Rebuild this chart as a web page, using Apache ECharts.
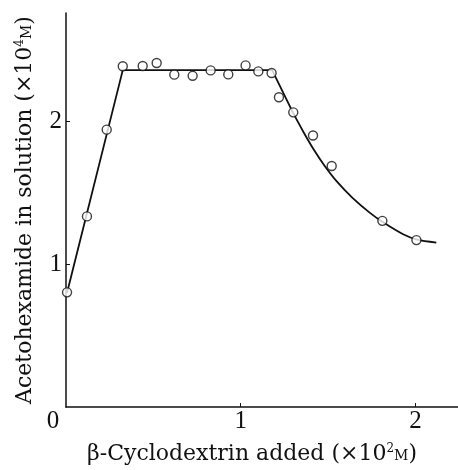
<!DOCTYPE html>
<html>
<head>
<meta charset="utf-8">
<script src="https://cdn.jsdelivr.net/npm/echarts@6/dist/echarts.min.js"></script>
<style>
html,body{margin:0;padding:0;background:#fff;}
#c{width:458px;height:470px;}
</style>
</head>
<body>
<div id="c"></div>
<script>
// Measured points: beta-cyclodextrin added (x10^2 M) vs acetohexamide in solution (x10^4 M)
const pointX = [0.006,0.12,0.233,0.325,0.439,0.519,0.62,0.725,0.828,0.929,1.028,1.101,1.177,1.219,1.301,1.414,1.521,1.811,2.006];
const pointY = [0.803,1.335,1.943,2.387,2.389,2.41,2.328,2.32,2.358,2.33,2.393,2.351,2.34,2.17,2.064,1.902,1.688,1.304,1.169];
// Fitted line: straight part
const lineX = [0.006,0.325,1.18,1.30];
const lineY = [0.80,2.36,2.36,2.06];
// Fitted line: curved part
const curveX = [1.30,1.36,1.42,1.48,1.55,1.64,1.74,1.82,1.93,2.01,2.12];
const curveY = [2.06,1.925,1.80,1.69,1.58,1.465,1.36,1.29,1.21,1.172,1.152];
const xTicks = [0,1,2];
const yTicks = [1,2];

const zip = (a,b) => a.map((v,i)=>[v,b[i]]);
const font = '"Liberation Serif", "DejaVu Serif", serif';
const nfont = '"DejaVu Serif", "Liberation Serif", serif';

const nameRich = {
  a:{fontFamily:nfont, fontSize:22, color:'#111'},
  s:{fontFamily:nfont, fontSize:12, color:'#111', verticalAlign:'top', padding:[0,0,9,0]},
  m:{fontFamily:nfont, fontSize:14, color:'#111', padding:[5,0,0,0]}
};

const chart = echarts.init(document.getElementById('c'), null, {renderer:'canvas'});
chart.setOption({
  animation:false,
  backgroundColor:'#fff',
  grid:{left:66, right:0, top:13, bottom:62, containLabel:false},
  xAxis:{
    type:'value', min:0, max:2.244, interval:1,
    axisLine:{show:true, lineStyle:{color:'#111', width:1.5}},
    axisTick:{show:true, inside:true, length:4, customValues:[1,2], lineStyle:{color:'#111'}},
    splitLine:{show:false},
    axisLabel:{
      customValues: xTicks,
      color:'#111', fontFamily:font, fontSize:25, margin:2,
      formatter:(v)=> v===0 ? '{z|0}' : String(v),
      rich:{z:{fontFamily:font, fontSize:25, color:'#111', padding:[0,26,0,0]}}
    },
    name:'{a|β-Cyclodextrin added (×10}{s|2}{m|M}{a|)}',
    nameLocation:'middle', nameGap:36,
    nameTextStyle:{rich:nameRich, padding:[0,20,0,0]}
  },
  yAxis:{
    type:'value', min:0, max:2.76, interval:1,
    axisLine:{show:true, lineStyle:{color:'#111', width:1.5}},
    axisTick:{show:true, inside:true, length:4, customValues:yTicks, lineStyle:{color:'#111'}},
    splitLine:{show:false},
    axisLabel:{customValues:yTicks, color:'#111', fontFamily:font, fontSize:25, margin:4},
    name:'{a|Acetohexamide in solution (×10}{s|4}{m|M}{a|)}',
    nameLocation:'middle', nameGap:30, nameRotate:90,
    nameTextStyle:{rich:nameRich}
  },
  series:[
    {type:'line', data:zip(lineX,lineY), symbol:'none', smooth:false,
     lineStyle:{color:'#111', width:1.8}, z:2},
    {type:'line', data:zip(curveX,curveY), symbol:'none', smooth:0.3,
     lineStyle:{color:'#111', width:1.8}, z:2},
    {type:'scatter', data:zip(pointX,pointY), symbol:'circle', symbolSize:9,
     itemStyle:{color:'#fff', borderColor:'#111', borderWidth:1.4}, z:3}
  ]
});
</script>
</body>
</html>
